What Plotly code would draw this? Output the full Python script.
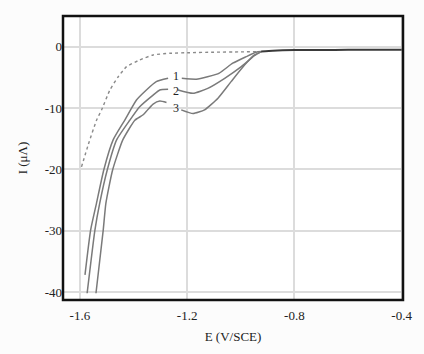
import plotly.graph_objects as go

# Data (E in V/SCE, I in microA)
blank_E = [-1.594, -1.569, -1.538, -1.519, -1.488, -1.457, -1.426, -1.377, -1.327, -1.265,
           -1.19, -1.1, -1.0, -0.92]
blank_I = [-19.6, -16.0, -12.0, -10.3, -7.06, -4.9, -3.26, -2.17, -1.35, -1.08,
           -0.98, -0.9, -0.85, -0.8]

tail_E = [-0.924, -0.88, -0.8, -0.7, -0.6, -0.5, -0.4]
tail_I = [-0.8, -0.65, -0.55, -0.55, -0.52, -0.5, -0.5]

c1_E = [-1.581, -1.56, -1.538, -1.511, -1.476, -1.433, -1.389, -1.352, -1.315, -1.271, None,
        -1.22, -1.166, -1.124, -1.08, -1.03, -0.98, -0.943, -0.924]
c1_I = [-37.2, -29.9, -25.5, -20.1, -15.2, -12.0, -8.7, -7.06, -5.7, -5.16, None,
        -5.16, -5.3, -4.9, -4.3, -2.7, -1.63, -0.9, -0.8]

c2_E = [-1.573, -1.544, -1.526, -1.498, -1.463, -1.414, -1.377, -1.327, -1.302, -1.271, None,
        -1.234, -1.178, -1.123, -1.06, -0.998, -0.949, -0.924]
c2_I = [-40.2, -29.9, -25.5, -20.1, -15.2, -12.0, -9.8, -7.9, -7.06, -6.95, None,
        -7.06, -7.6, -6.8, -5.16, -3.26, -1.47, -0.8]

c3_E = [-1.54, -1.513, -1.503, -1.478, -1.44, -1.395, -1.364, -1.327, -1.302, -1.277, None,
        -1.222, -1.178, -1.135, -1.085, -1.036, -0.986, -0.949, -0.924]
c3_I = [-40.2, -29.9, -25.5, -20.1, -15.2, -12.0, -11.1, -9.35, -8.86, -9.1, None,
        -10.3, -10.9, -10.3, -8.4, -5.7, -3.0, -1.35, -0.8]

labels = ["1", "2", "3"]
label_E = [-1.24, -1.24, -1.24]
label_I = [-4.8, -7.2, -10.0]

x_ticks = [-1.6, -1.2, -0.8, -0.4]
y_ticks = [0, -10, -20, -30, -40]

font_family = "Liberation Serif, Times New Roman, serif"

fig = go.Figure()
fig.add_trace(go.Scatter(x=blank_E, y=blank_I, mode="lines",
                         line=dict(color="#8a8a8a", width=1.4, dash="dot", shape="spline", smoothing=0.5),
                         showlegend=False))
for xs, ys in [(c1_E, c1_I), (c2_E, c2_I), (c3_E, c3_I)]:
    fig.add_trace(go.Scatter(x=xs, y=ys, mode="lines",
                             line=dict(color="#7a7a7a", width=1.5, shape="spline", smoothing=0.5),
                             showlegend=False))
fig.add_trace(go.Scatter(x=tail_E, y=tail_I, mode="lines",
                         line=dict(color="#3a3a3a", width=2, shape="spline", smoothing=0.5),
                         showlegend=False))

for t, xv, yv in zip(labels, label_E, label_I):
    fig.add_annotation(x=xv, y=yv, text=t, showarrow=False,
                       font=dict(family=font_family, size=12, color="#222"))

fig.update_layout(
    width=424, height=354,
    margin=dict(l=63, r=19, t=16, b=54),
    paper_bgcolor="#fcfcfc",
    plot_bgcolor="white",
    font=dict(family=font_family, size=13, color="#222"),
    xaxis=dict(range=[-1.663, -0.395], tickvals=x_ticks, ticktext=[str(v) for v in x_ticks],
               showgrid=True, gridcolor="#dcdcdc", gridwidth=1.5, zeroline=False,
               ticks="outside", ticklen=3, tickcolor="rgba(0,0,0,0)", showline=False,
               title=dict(text="E (V/SCE)", font=dict(family=font_family, size=13), standoff=10)),
    yaxis=dict(range=[-41.3, 5.0], tickvals=y_ticks, ticktext=[str(v) for v in y_ticks],
               showgrid=True, gridcolor="#dcdcdc", gridwidth=1.5, zeroline=False,
               ticks="", showline=False,
               title=dict(text="I (μΛ)", font=dict(family=font_family, size=13), standoff=14)),
    shapes=[dict(type="rect", xref="paper", yref="paper", x0=0, x1=1, y0=0, y1=1,
                 line=dict(color="#111", width=2.5))],
)

fig.write_html("out.html")
